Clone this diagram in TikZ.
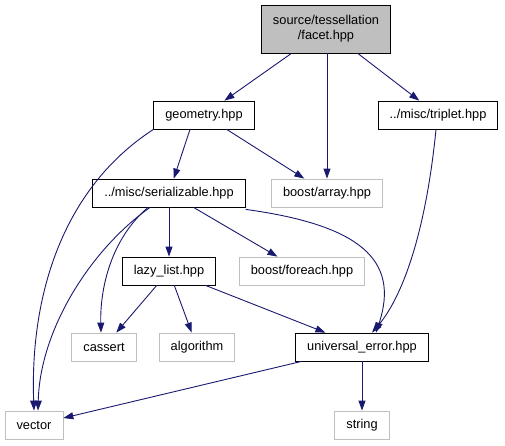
\documentclass[tikz,border=0pt]{standalone}
\usepackage{fontspec}
\setmainfont{Liberation Sans}
\usetikzlibrary{arrows.meta}
\definecolor{edgeblue}{HTML}{191970}
\definecolor{boxgray}{HTML}{BFBFBF}
\begin{document}
\begin{tikzpicture} [x=1pt, y=-1pt]
    \tikzstyle{every node}=[align = center, font=\fontsize{12.8}{15}\selectfont, inner xsep=11.5pt, inner ysep=0pt, minimum height=28pt]
    \tikzstyle{header} = [draw=black, line width=0.8pt]
    \tikzstyle{system} = [draw=boxgray, line width=0.8pt]
    \tikzstyle{edge} = [draw=edgeblue, line width=0.9pt, -{Triangle[length=10pt,width=7pt]}]
    \useasboundingbox (0,0) rectangle (505,445);
    \node [header, fill=boxgray, minimum height=48pt] (facet) at (326,29) {source/tessellation \\ /facet.hpp};
    \node [header] (geometry) at (204,115) {geometry.hpp};
    \node [header] (triplet) at (438,115) {../misc/triplet.hpp};
    \node [header] (serializable) at (169,193) {../misc/serializable.hpp};
    \node [system] (array) at (327,193) {boost/array.hpp};
    \node [header] (lazylist) at (169,271) {lazy\_list.hpp};
    \node [system] (foreach) at (302,271) {boost/foreach.hpp};
    \node [system] (cassert) at (104,347) {cassert};
    \node [system] (algorithm) at (197,347) {algorithm};
    \node [header] (universal) at (362,347) {universal\_error.hpp};
    \node [system] (vector) at (34,425) {vector};
    \node [system] (string) at (362,425) {string};
    % includes of facet.hpp
    \draw [edge] (facet) -- (geometry);
    \draw [edge] (facet.south -| array.north) -- (array);
    \draw [edge] (facet) -- (triplet);
    % includes of geometry.hpp
    \draw [edge] (geometry.south west) .. controls (60,190) and (30,300) .. (vector.north);
    \draw [edge] ([xshift=-14pt]geometry.south) -- (serializable);
    \draw [edge] (geometry) -- (array);
    \draw [edge] ([xshift=-2pt]triplet.south) .. controls (425,240) and (400,300) .. ([xshift=10pt]universal.north);
    % includes of serializable.hpp
    \draw [edge] ([xshift=-19pt]serializable.south) .. controls (90,250) and (40,330) .. ([xshift=4pt]vector.north);
    \draw [edge] ([xshift=-21pt]serializable.south) .. controls (110,240) and (100,290) .. ([xshift=-3pt]cassert.north);
    \draw [edge] (serializable) -- (lazylist);
    \draw [edge] (serializable) -- (foreach);
    \draw [edge] ([yshift=-2pt]serializable.south east) .. controls (360,225) and (400,260) .. ([xshift=14pt]universal.north);
    % includes of lazy_list.hpp
    \draw [edge] (lazylist) -- (cassert);
    \draw [edge] (lazylist) -- (algorithm);
    \draw [edge] (lazylist) -- (universal);
    % includes of universal_error.hpp
    \draw [edge] (universal) -- (vector);
    \draw [edge] (universal) -- (string);
\end{tikzpicture}
\end{document}
